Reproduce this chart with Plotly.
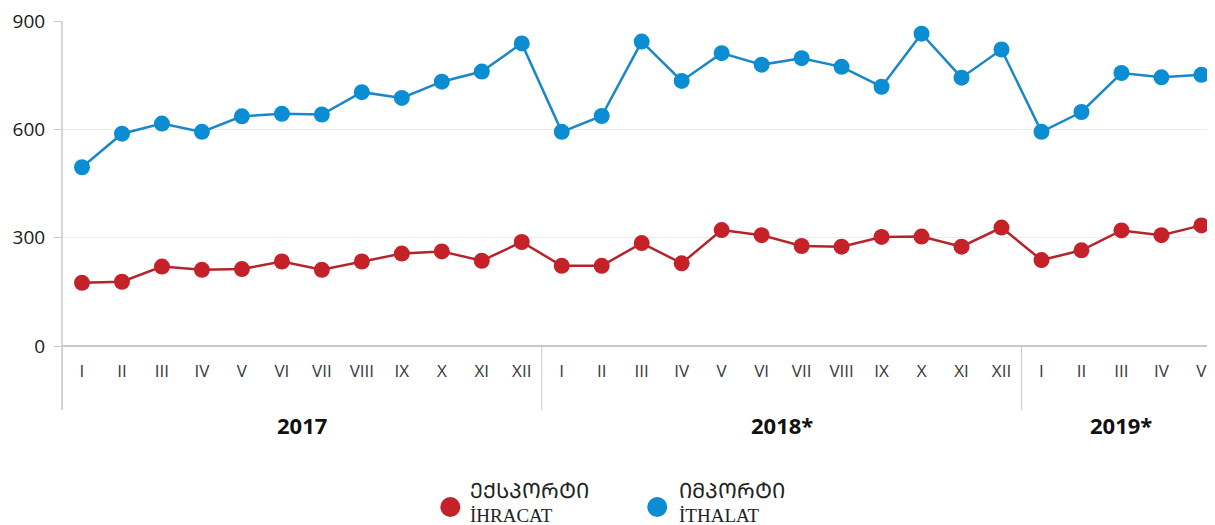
import plotly.graph_objects as go

# ---- data ----
years = ["2017", "2018*", "2019*"]
months_per_year = [12, 12, 5]
roman = ["I", "II", "III", "IV", "V", "VI", "VII", "VIII", "IX", "X", "XI", "XII"]

export_vals = [175, 178, 220, 211, 213, 234, 211, 234, 256, 262, 236, 288,
               222, 222, 285, 229, 321, 307, 277, 275, 302, 303, 275, 328,
               238, 265, 320, 307, 334]
import_vals = [495, 588, 616, 593, 636, 643, 641, 703, 687, 732, 760, 838,
               593, 637, 843, 734, 811, 779, 797, 773, 718, 865, 743, 821,
               593, 648, 756, 744, 751]

export_name_ka = "ᲔᲥᲡᲞᲝᲠᲢᲘ"
export_name_tr = "İHRACAT"
import_name_ka = "ᲘᲛᲞᲝᲠᲢᲘ"
import_name_tr = "İTHALAT"

# ---- derived ----
tick_text = []
for n in months_per_year:
    tick_text += roman[:n]
xs = list(range(len(tick_text)))

RED = "#c42129"
RED_LINE = "#b5242c"
BLUE = "#0b8dd4"
BLUE_LINE = "#1a87c8"

fig = go.Figure()
fig.add_trace(go.Scatter(x=xs, y=export_vals, mode="lines+markers", showlegend=False,
                         line=dict(color=RED_LINE, width=2.5),
                         marker=dict(color=RED, size=16), cliponaxis=False))
fig.add_trace(go.Scatter(x=xs, y=import_vals, mode="lines+markers", showlegend=False,
                         line=dict(color=BLUE_LINE, width=2.5),
                         marker=dict(color=BLUE, size=16), cliponaxis=False))

OFF = 8  # page body margin
W, H = 1215 - OFF, 525 - OFF
L, T, B, R = 61.5 - OFF, 21 - OFF, 525 - 346, 0
pw = W - L - R
ph = H - T - B

def px_x(p):
    return (p - OFF - L) / pw

def px_y(p):
    return (H - B - (p - OFF)) / ph

shapes = []
annotations = []
sep_bottom = px_y(410)
start = 0
for yr, n in zip(years, months_per_year):
    end = start + n
    shapes.append(dict(type="line", xref="x", yref="paper", x0=start - 0.5, x1=start - 0.5,
                       y0=sep_bottom, y1=0, line=dict(color="#cfcfcf", width=1.2)))
    annotations.append(dict(text="<b>%s</b>" % yr, xref="x", yref="paper",
                            x=(start + end - 1) / 2, y=px_y(425), showarrow=False,
                            xanchor="center", yanchor="middle",
                            font=dict(family="Open Sans", size=22, color="#111111")))
    start = end
shapes.append(dict(type="line", xref="paper", yref="paper", x0=px_x(1214), x1=px_x(1214),
                   y0=sep_bottom, y1=0, line=dict(color="#cfcfcf", width=1.2)))
shapes.append(dict(type="line", xref="paper", yref="paper", x0=0, x1=0,
                   y0=sep_bottom, y1=1, line=dict(color="#c8c8c8", width=1.5)))

for cx, tx, col, ka, tr in [(450, 468, RED, export_name_ka, export_name_tr),
                            (657, 677, BLUE, import_name_ka, import_name_tr)]:
    shapes.append(dict(type="circle", xref="paper", yref="paper",
                       xsizemode="pixel", ysizemode="pixel",
                       xanchor=px_x(cx), yanchor=px_y(507),
                       x0=-10, x1=10, y0=-10, y1=10,
                       fillcolor=col, line=dict(color=col, width=0)))
    annotations.append(dict(text=ka, xref="paper", yref="paper", x=px_x(tx), y=px_y(491),
                            showarrow=False, xanchor="left", yanchor="middle",
                            font=dict(family="DejaVu Sans", size=21, color="#222222")))
    annotations.append(dict(text=tr, xref="paper", yref="paper", x=px_x(tx), y=px_y(515),
                            showarrow=False, xanchor="left", yanchor="middle",
                            font=dict(family="Liberation Serif", size=19, color="#222222")))

fig.update_layout(
    width=W, height=H,
    margin=dict(l=L, r=R, t=T, b=B, pad=0, autoexpand=False),
    paper_bgcolor="white", plot_bgcolor="white",
    showlegend=False,
    shapes=shapes, annotations=annotations,
    xaxis=dict(range=[-0.5, 28.34], tickmode="array", tickvals=xs, ticktext=tick_text,
               showgrid=False, zeroline=False, showline=False, ticks="",
               automargin=False,
               ticklabelstandoff=13, ticklabeloverflow="allow",
               tickfont=dict(family="Open Sans", size=17, color="#383838")),
    yaxis=dict(range=[0, 900], tickvals=[0, 300, 600, 900],
               showgrid=True, gridcolor="#ebebeb", gridwidth=1.2,
               zeroline=True, zerolinecolor="#c8c8c8", zerolinewidth=1.5,
               showline=False, ticks="outside", ticklen=7, tickcolor="#c8c8c8",
               automargin=False,
               ticklabelstandoff=5, ticklabeloverflow="allow",
               tickfont=dict(family="Open Sans", size=19, color="#1a1a1a")),
)

fig.write_html("out.html")
